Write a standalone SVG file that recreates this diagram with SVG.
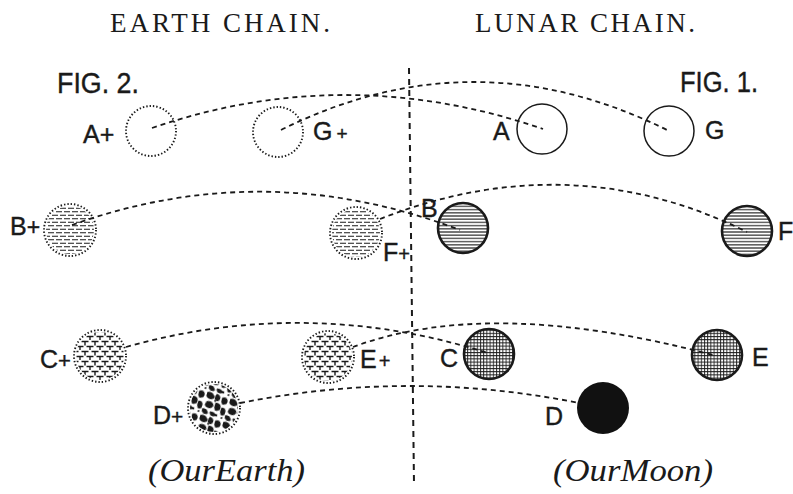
<svg xmlns="http://www.w3.org/2000/svg" width="793" height="494" viewBox="0 0 793 494">
<style>
.lbl{font-family:"Liberation Sans",Arial,sans-serif;font-size:25px;fill:#1a1a1a;stroke:#1a1a1a;stroke-width:0.4}
.fig{font-family:"Liberation Sans",Arial,sans-serif;font-size:30px;fill:#1a1a1a;stroke:#1a1a1a;stroke-width:0.4}
.head{font-family:"Liberation Serif","Times New Roman",serif;font-size:27px;fill:#1a1a1a}
.ital{font-family:"Liberation Serif","Times New Roman",serif;font-style:italic;font-size:32px;fill:#1a1a1a}
.conn{fill:none;stroke:#1a1a1a;stroke-width:1.8;stroke-dasharray:5 4}
.axis{fill:none;stroke:#1a1a1a;stroke-width:2;stroke-dasharray:6 5}
.dot{fill:none;stroke:#1a1a1a;stroke-width:1.9;stroke-dasharray:1.4 2}
.solid{fill:none;stroke:#1a1a1a;stroke-width:1.5}
.thick{fill:none;stroke:#1a1a1a;stroke-width:2.6}
</style>
<defs>
<pattern id="hl" width="6" height="3.2" patternUnits="userSpaceOnUse"><path d="M0 1.6H6" stroke="#1a1a1a" stroke-width="1.1"/></pattern>
<pattern id="dl" width="16" height="7" patternUnits="userSpaceOnUse"><path d="M0 1.75H6M8 1.75H14M4 5.25H10M12 5.25H16M0 5.25H2" stroke="#1a1a1a" stroke-width="1.2"/></pattern>
<pattern id="grid" width="3.2" height="3.2" patternUnits="userSpaceOnUse"><path d="M0 0.5H3.2M0.5 0V3.2" stroke="#1a1a1a" stroke-width="0.9"/></pattern>
<pattern id="tee" width="10" height="10" patternUnits="userSpaceOnUse"><path d="M1.5 1.5H8.5M5 1.5V5.5M6.5 6.5H10M0 6.5H3.5M0 6.5V10M10 6.5V10" stroke="#1a1a1a" stroke-width="1.4"/></pattern>
<pattern id="mot" width="24" height="24" patternUnits="userSpaceOnUse" patternTransform="rotate(17)">
<g fill="#1a1a1a">
<path d="M1 2Q5 0 8 3T7 8Q3 9 1 6Z"/>
<path d="M11 1Q16 2 15 6T10 7Q9 3 11 1Z"/>
<path d="M17 3Q22 1 23 5T19 10Q16 8 17 3Z"/>
<path d="M3 11Q8 9 10 12T8 17Q4 18 2 15Z"/>
<path d="M12 10Q17 9 18 13T14 18Q11 15 12 10Z"/>
<path d="M19 13Q24 12 24 17T20 20Q18 17 19 13Z"/>
<path d="M1 19Q5 18 7 21T4 24Q0 23 1 19Z"/>
<path d="M9 20Q13 19 15 21T13 24Q9 24 9 20Z"/>
<circle cx="16" cy="22" r="1.3"/><circle cx="11" cy="8.5" r="1"/><circle cx="22" cy="23" r="1"/>
</g>
</pattern>
</defs>

<text class="head" x="110" y="32" textLength="220" lengthAdjust="spacing">EARTH  CHAIN.</text>
<text class="head" x="475" y="32" textLength="220" lengthAdjust="spacing">LUNAR  CHAIN.</text>
<text class="fig" x="57" y="93" textLength="82" lengthAdjust="spacingAndGlyphs">FIG. 2.</text>
<text class="fig" x="680" y="92" textLength="78" lengthAdjust="spacingAndGlyphs">FIG. 1.</text>
<text class="ital" x="148" y="481" textLength="157" lengthAdjust="spacingAndGlyphs">(OurEarth)</text>
<text class="ital" x="553" y="481" textLength="160" lengthAdjust="spacingAndGlyphs">(OurMoon)</text>

<g id="earth-A">
<circle class="dot" cx="151" cy="131" r="25"/>
<text class="lbl" x="83" y="143">A+</text>
</g>
<g id="earth-G">
<circle class="dot" cx="278" cy="132" r="25"/>
<text class="lbl" x="313" y="140">G<tspan font-size="19" dx="4">+</tspan></text>
</g>
<g id="lunar-A">
<circle class="solid" cx="542" cy="129" r="25"/>
<text class="lbl" x="493" y="140">A</text>
</g>
<g id="lunar-G">
<circle class="solid" cx="669" cy="131" r="25"/>
<text class="lbl" x="705" y="139">G</text>
</g>

<g id="earth-B">
<circle cx="70" cy="230" r="24" fill="url(#dl)"/>
<circle class="dot" cx="70" cy="230" r="26"/>
<text class="lbl" x="10" y="235">B<tspan font-size="23">+</tspan></text>
</g>
<g id="earth-F">
<circle cx="356" cy="233" r="24" fill="url(#dl)"/>
<circle class="dot" cx="356" cy="233" r="26"/>
<text class="lbl" x="383" y="261">F<tspan font-size="20">+</tspan></text>
</g>
<g id="lunar-B">
<circle cx="463" cy="228" r="25" fill="url(#hl)"/>
<circle class="thick" cx="463" cy="228" r="25"/>
<text class="lbl" x="421" y="217">B</text>
</g>
<g id="lunar-F">
<circle cx="747" cy="231" r="25" fill="url(#hl)"/>
<circle class="thick" cx="747" cy="231" r="25"/>
<text class="lbl" x="778" y="240">F</text>
</g>

<g id="earth-C">
<circle cx="100" cy="356" r="24" fill="url(#tee)"/>
<circle class="dot" cx="100" cy="356" r="26"/>
<text class="lbl" x="40" y="368">C<tspan font-size="22">+</tspan></text>
</g>
<g id="earth-E">
<circle cx="328" cy="357" r="24" fill="url(#tee)"/>
<circle class="dot" cx="328" cy="357" r="26"/>
<text class="lbl" x="360" y="368">E<tspan font-size="20" dx="2">+</tspan></text>
</g>
<g id="lunar-C">
<circle cx="489" cy="354" r="25" fill="url(#grid)"/>
<circle class="thick" cx="489" cy="354" r="25"/>
<text class="lbl" x="440" y="367">C</text>
</g>
<g id="lunar-E">
<circle cx="717" cy="355" r="25" fill="url(#grid)"/>
<circle class="thick" cx="717" cy="355" r="25"/>
<text class="lbl" x="752" y="366">E</text>
</g>

<g id="earth-D">
<circle cx="214" cy="408" r="24" fill="url(#mot)"/>
<circle class="dot" cx="214" cy="408" r="26"/>
<text class="lbl" x="153" y="424">D<tspan font-size="21">+</tspan></text>
</g>
<g id="lunar-D">
<circle cx="603" cy="408" r="26" fill="#111"/>
<text class="lbl" x="545" y="425">D</text>
</g>

<g id="connectors">
<path class="axis" d="M409 68L414 484"/>
<path class="conn" d="M152 128Q346 61.5 543 129"/>
<path class="conn" d="M281 130Q474.5 33.5 669 131"/>
<path class="conn" d="M72 225Q265 156 460 230"/>
<path class="conn" d="M380 219Q570.5 144.5 747 232"/>
<path class="conn" d="M126 347Q307 296 488 353"/>
<path class="conn" d="M353 347Q490 296 713 355"/>
<path class="conn" d="M240 403Q410 369 579 403"/>
</g>
</svg>
